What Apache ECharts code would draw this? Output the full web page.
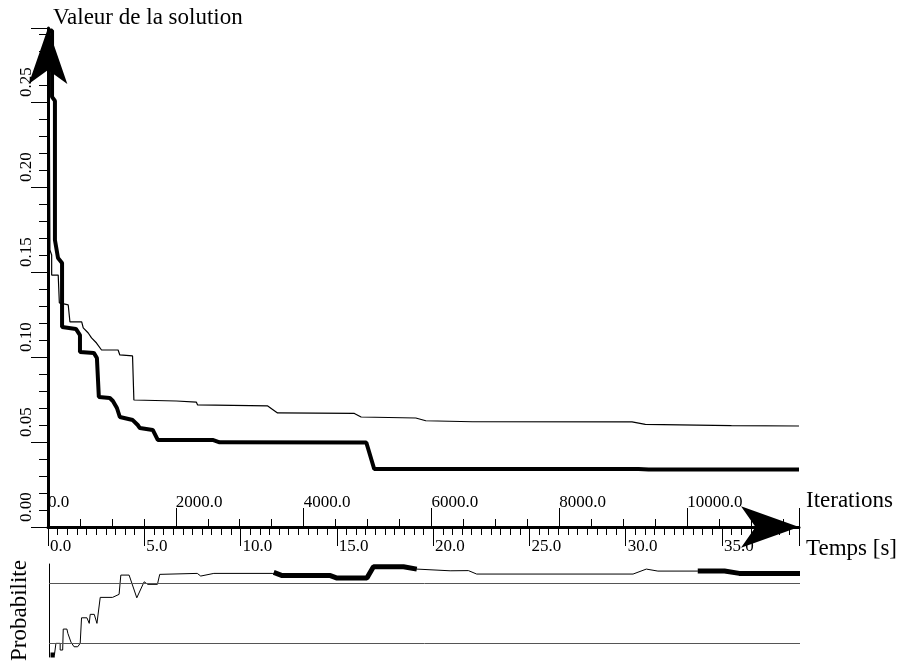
<!DOCTYPE html>
<html>
<head>
<meta charset="utf-8">
<script src="https://cdn.jsdelivr.net/npm/echarts@6/dist/echarts.min.js"></script>
<style>
html,body{margin:0;padding:0;background:#fff;}
#chart{width:900px;height:664px;}
</style>
</head>
<body>
<div id="chart"></div>
<script>
// ---- Data (time in seconds, solution value) ----
const thickTime = [0.10, 0.21, 0.21, 0.36, 0.36, 0.52, 0.73, 0.73, 1.45, 1.66, 1.66, 2.38, 2.54, 2.64, 3.21, 3.37, 3.58, 3.73, 4.40, 4.66, 4.77, 5.44, 5.70, 8.55, 8.91, 16.53, 16.94, 30.67, 31.19, 39.0];
const thickValue = [0.292, 0.292, 0.253, 0.2506, 0.1688, 0.1582, 0.1553, 0.1176, 0.1165, 0.1129, 0.1029, 0.1024, 0.0994, 0.0765, 0.0759, 0.0741, 0.0700, 0.0647, 0.0629, 0.0600, 0.0582, 0.0571, 0.0512, 0.0512, 0.0498, 0.0497, 0.0341, 0.0341, 0.0338, 0.0338];

const thinTime = [0.05, 0.10, 0.19, 0.19, 0.53, 0.59, 1.05, 1.14, 1.75, 1.83, 2.09, 2.26, 2.52, 2.78, 3.64, 3.73, 4.39, 4.46, 6.67, 7.70, 7.77, 11.41, 11.92, 15.91, 16.26, 19.10, 19.62, 22.04, 30.33, 31.02, 35.49, 39.0];
const thinValue = [0.2935, 0.1629, 0.160, 0.1482, 0.1482, 0.1318, 0.1306, 0.1206, 0.1206, 0.1171, 0.1141, 0.1112, 0.1082, 0.1041, 0.1041, 0.1012, 0.1006, 0.0747, 0.0741, 0.0735, 0.0718, 0.0712, 0.0671, 0.0668, 0.0647, 0.0641, 0.0625, 0.0619, 0.0618, 0.0604, 0.0596, 0.0594];

// ---- Probability panel ----
const probTime = [0.10, 0.28, 0.36, 0.36, 0.58, 0.58, 0.71, 0.74, 0.93, 0.98, 1.14, 1.30, 1.49, 1.62, 1.69, 1.69, 1.97, 2.09, 2.14, 2.35, 2.49, 2.66, 3.30, 3.64, 3.73, 4.16, 4.56, 4.94, 5.13, 5.63, 5.75, 7.70, 7.88, 8.56, 11.59, 11.67, 12.11, 14.61, 14.96, 16.51, 16.85, 18.41, 19.10, 20.83, 21.78, 22.21, 30.33, 31.02, 31.62, 33.69, 35.08, 35.85, 39.0];
const probValue = [-0.193, -0.193, -0.193, 0, 0, -0.11, -0.11, 0.236, 0.236, 0.165, 0.021, -0.056, -0.056, 0, 0, 0.422, 0.422, 0.33, 0.479, 0.479, 0.33, 0.759, 0.759, 0.809, 1.127, 1.127, 0.752, 1.016, 0.974, 0.974, 1.139, 1.155, 1.111, 1.155, 1.155, 1.172, 1.119, 1.119, 1.078, 1.078, 1.264, 1.264, 1.226, 1.198, 1.201, 1.144, 1.144, 1.226, 1.193, 1.193, 1.193, 1.155, 1.155];

const probThickTime = [0.08, 0.30, 0.31, 11.67, 12.11, 14.61, 14.96, 16.51, 16.85, 18.41, 19.10, 19.11, 33.69, 35.08, 35.85, 39.0];
const probThickValue = [-0.193, -0.193, null, 1.172, 1.119, 1.119, 1.078, 1.078, 1.264, 1.264, 1.226, null, 1.193, 1.193, 1.155, 1.155];

const refLines = [0, 1];

const FONT = 'Liberation Serif';
const zip = (a, b) => a.map((x, i) => [x, b[i]]);

const chart = echarts.init(document.getElementById('chart'), null, {renderer: 'canvas'});
const txt = {color: '#000', fontFamily: FONT};

chart.setOption({
  animation: false,
  backgroundColor: '#fff',
  grid: [
    {left: 48, right: 100, top: 28, bottom: 137},
    {left: 48, right: 100, top: 564, bottom: 7}
  ],
  xAxis: [
    {
      type: 'value', gridIndex: 0, min: 0, max: 39, interval: 5, position: 'bottom',
      axisLine: {show: true, lineStyle: {color: '#000', width: 3}, symbol: ['none', 'arrow'], symbolSize: [31, 58]},
      axisTick: {show: true, length: 19, lineStyle: {color: '#000', width: 1}},
      minorTick: {show: true, splitNumber: 10, length: 8, lineStyle: {color: '#000', width: 1}},
      axisLabel: Object.assign({formatter: v => v.toFixed(1), align: 'left', verticalAlign: 'middle', margin: 20, fontSize: 17, showMaxLabel: false, padding: [0, 0, 0, 2]}, txt),
      splitLine: {show: false},
      name: 'Temps [s]', nameLocation: 'end', nameGap: 7,
      nameTextStyle: Object.assign({fontSize: 23, align: 'left', verticalAlign: 'top', lineHeight: 44}, txt)
    },
    {
      type: 'value', gridIndex: 0, min: 0, max: 11750, interval: 2000, position: 'bottom',
      axisLine: {show: false},
      axisTick: {show: true, inside: true, length: 19, lineStyle: {color: '#000', width: 1}},
      minorTick: {show: true, splitNumber: 4, length: 8, lineStyle: {color: '#000', width: 1}},
      axisLabel: Object.assign({inside: true, formatter: v => v.toFixed(1), align: 'left', verticalAlign: 'middle', margin: 24, fontSize: 17, showMaxLabel: false}, txt),
      splitLine: {show: false},
      name: 'Iterations', nameLocation: 'end', nameGap: 7,
      nameTextStyle: Object.assign({fontSize: 23, align: 'left', verticalAlign: 'bottom', lineHeight: 52}, txt)
    },
    {
      type: 'value', gridIndex: 1, min: 0, max: 39, show: false
    }
  ],
  yAxis: [
    {
      type: 'value', gridIndex: 0, min: 0, max: 0.2935, interval: 0.05,
      axisLine: {show: true, lineStyle: {color: '#000', width: 3}, symbol: ['none', 'arrow'], symbolSize: [29, 56]},
      axisTick: {show: true, length: 17, lineStyle: {color: '#000', width: 1}},
      minorTick: {show: true, splitNumber: 5, length: 9, lineStyle: {color: '#000', width: 1}},
      axisLabel: Object.assign({rotate: 90, formatter: v => v.toFixed(2), align: 'left', verticalAlign: 'middle', margin: 21, fontSize: 17, showMaxLabel: false, padding: [0, 0, 0, 5]}, txt),
      splitLine: {show: false},
      name: 'Valeur de la solution', nameLocation: 'end', nameGap: 10,
      nameTextStyle: Object.assign({fontSize: 23, align: 'left', verticalAlign: 'middle', padding: [0, 0, 0, 5]}, txt)
    },
    {
      type: 'value', gridIndex: 1, min: -0.225, max: 1.31,
      axisLine: {show: true, lineStyle: {color: '#000', width: 1}},
      axisTick: {show: false}, axisLabel: {show: false}, splitLine: {show: false},
      name: 'Probabilite', nameLocation: 'middle', nameGap: 29.5,
      nameTextStyle: Object.assign({fontSize: 23, verticalAlign: 'middle'}, txt)
    }
  ],
  series: [
    {
      type: 'line', xAxisIndex: 0, yAxisIndex: 0, data: zip(thinTime, thinValue),
      showSymbol: false, symbol: 'none', lineStyle: {color: '#000', width: 1.2}
    },
    {
      type: 'line', xAxisIndex: 0, yAxisIndex: 0, data: zip(thickTime, thickValue),
      showSymbol: false, symbol: 'none', lineStyle: {color: '#000', width: 4}
    },
    {
      type: 'line', xAxisIndex: 2, yAxisIndex: 1, data: zip(probTime, probValue),
      showSymbol: false, symbol: 'none', lineStyle: {color: '#000', width: 1},
      markLine: {
        silent: true, symbol: ['none', 'none'], label: {show: false},
        lineStyle: {color: '#555', width: 1, type: 'solid'},
        data: refLines.map(v => ({yAxis: v}))
      }
    },
    {
      type: 'line', xAxisIndex: 2, yAxisIndex: 1, data: zip(probThickTime, probThickValue),
      showSymbol: false, symbol: 'none', connectNulls: false, lineStyle: {color: '#000', width: 5}
    }
  ]
});
</script>
</body>
</html>
